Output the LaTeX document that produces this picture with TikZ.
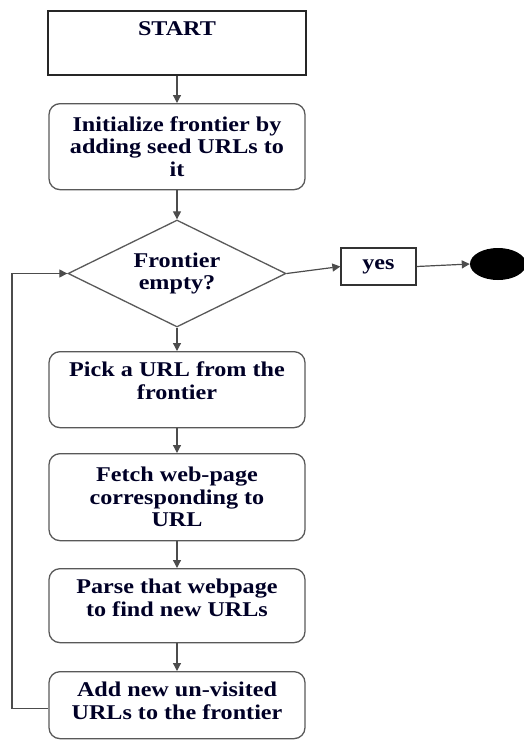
\documentclass[tikz,border=0pt]{standalone}
\usepackage{fontspec}
\setmainfont{Liberation Serif}[FakeStretch=1.15]
\usetikzlibrary{shapes.geometric,arrows.meta}
\begin{document}
\begin{tikzpicture}[x=1pt,y=-1pt,
  every node/.style={font=\fontsize{21}{22.5}\selectfont\bfseries, text=black!85!blue},
  procbox/.style={draw=black!65, line width=1.3pt, rounded corners=11pt, minimum width=256pt, inner sep=0pt, align=center, anchor=north},
  arr/.style={draw=black!70, line width=1.2pt, -{Triangle[length=8pt,width=8pt]}},
]
\useasboundingbox (0,0) rectangle (524,740);
\node[draw=black!85, line width=1.5pt, minimum width=258pt, inner xsep=0pt, inner ysep=11pt, text height=14pt, text depth=28pt, anchor=north] (start) at (177,10) {START};
\node[procbox, minimum height=86pt] (init) at (177,103) {Initialize frontier by\\adding seed URLs to\\it};
\node[diamond, aspect=2.04, draw=black!65, line width=1.3pt, minimum width=218pt, minimum height=107pt, inner sep=0pt, align=center] (dec) at (177,273.5) {Frontier\\empty?};
\node[draw=black!80, line width=1.3pt, minimum width=75pt, minimum height=37pt, inner sep=0pt] (yes) at (378.5,266.5) {yes};
\node[ellipse, fill=black, minimum width=56pt, minimum height=32pt, inner sep=0pt] (stop) at (498,264) {};
\node[procbox, minimum height=76pt, text depth=18pt] (pick) at (177,351) {Pick a URL from the\\frontier};
\node[procbox, minimum height=87pt] (fetch) at (177,453) {Fetch web-page\\corresponding to\\URL};
\node[procbox, minimum height=74pt, text depth=16pt] (parse) at (177,568) {Parse that webpage\\to find new URLs};
\node[procbox, minimum height=67pt, text depth=9pt] (add) at (177,671) {Add new un-visited\\URLs to the frontier};
\coordinate (loopx) at (12,0);
\coordinate (addw) at ([yshift=-3pt]add.west);
\draw[arr] (start) -- (init);
\draw[arr] (init) -- (dec);
\draw[arr] (dec) -- (pick);
\draw[arr] (pick) -- (fetch);
\draw[arr] (fetch) -- (parse);
\draw[arr] (parse) -- (add);
\draw[arr] (dec.east) -- (yes.west);
\draw[arr] (yes.east) -- (stop.west);
\draw[arr] (addw) -- (loopx |- addw) |- (dec.west);
\end{tikzpicture}
\end{document}
